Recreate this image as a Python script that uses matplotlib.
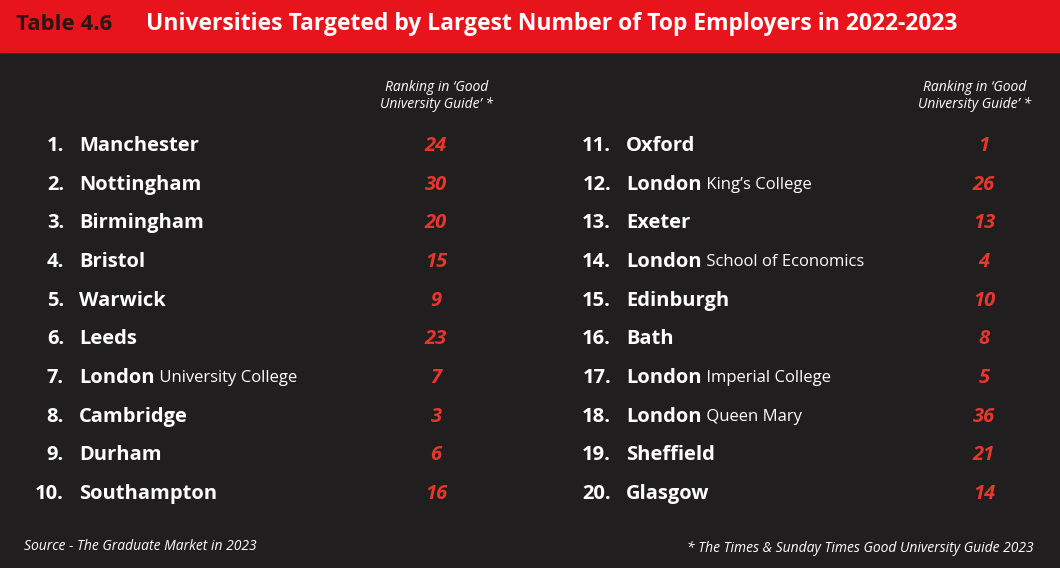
import matplotlib.pyplot as plt

plt.rcParams["font.family"] = ["Open Sans", "DejaVu Sans"]

# data
positions = list(range(1, 21))
names = ["Manchester", "Nottingham", "Birmingham", "Bristol", "Warwick",
         "Leeds", "London", "Cambridge", "Durham", "Southampton",
         "Oxford", "London", "Exeter", "London", "Edinburgh",
         "Bath", "London", "London", "Sheffield", "Glasgow"]
subnames = ["", "", "", "", "", "", "University College", "", "", "",
            "", "King\u2019s College", "", "School of Economics", "",
            "", "Imperial College", "Queen Mary", "", ""]
guide_rank = [24, 30, 20, 15, 9, 23, 7, 3, 6, 16,
              1, 26, 13, 4, 10, 8, 5, 36, 21, 14]

title_tag = "Table 4.6"
title = "Universities Targeted by Largest Number of Top Employers in 2022-2023"
col_head = "Ranking in \u2018Good\nUniversity Guide\u2019 *"
source = "Source - The Graduate Market in 2023"
footnote = "* The Times & Sunday Times Good University Guide 2023"

bg = "#211e1f"
red = "#e8141c"
num_red = "#e8362c"

fig = plt.figure(figsize=(10.6, 5.68), dpi=100, facecolor=bg)
ax = fig.add_axes([0, 0, 1, 1])
ax.set_xlim(0, 1060)
ax.set_ylim(568, 0)
ax.axis("off")
ax.set_facecolor(bg)

# header band
ax.add_patch(plt.Rectangle((0, 0), 1060, 52, color=red, zorder=0))
ax.text(16, 24, title_tag, color="#2a1414", fontsize=16, fontweight="bold", va="center")
ax.text(146, 24, title, color="white", fontsize=16.5, fontweight="bold", va="center")

# column headers
for xc in (437, 975):
    ax.text(xc, 96, col_head, color="white", fontsize=10, style="italic",
            ha="center", va="center", linespacing=1.25)

row0, step = 146, 38.67
for i, (p, n, s, g) in enumerate(zip(positions, names, subnames, guide_rank)):
    col = i // 10
    y = row0 + (i % 10) * step
    xn = 64 if col == 0 else 611
    xname = 79 if col == 0 else 626
    xv = 436 if col == 0 else 984
    ax.text(xn, y, f"{p}.", color="white", fontsize=14.5, fontweight="bold", ha="right", va="center")
    nt = ax.text(xname, y, n, color="white", fontsize=14.5, fontweight="bold", va="center")
    if s:
        ax.annotate(" " + s, xy=(1, 0.5), xycoords=nt, color="white", fontsize=12,
                    va="center", ha="left")
    ax.text(xv, y, str(g), color=num_red, fontsize=14.5, fontweight="bold", style="italic",
            ha="center", va="center")

ax.text(24, 546, source, color="white", fontsize=10, style="italic", va="center")
ax.text(1034, 549, footnote, color="white", fontsize=10, style="italic", va="center", ha="right")

fig.savefig("out.png", dpi=100, facecolor=bg)
